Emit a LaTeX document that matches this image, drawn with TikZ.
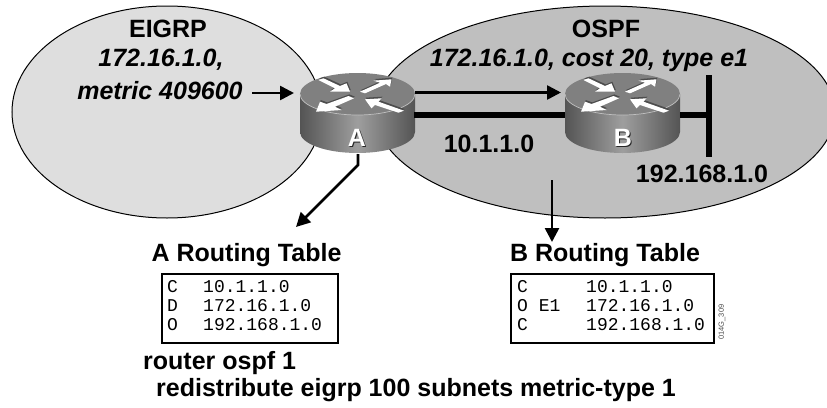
\documentclass[tikz,border=0pt]{standalone}
\usepackage{fontspec}
\setmainfont{Liberation Sans}
\setmonofont{Liberation Mono}
\usetikzlibrary{arrows.meta,shapes.geometric}
\definecolor{eigrpfill}{gray}{0.87}
\definecolor{ospffill}{gray}{0.75}
\definecolor{routertop}{gray}{0.5}
\definecolor{routerdark}{gray}{0.33}
\definecolor{routermid}{gray}{0.62}
\tikzset{
  areablob/.style={ellipse,draw=black,line width=1pt,inner sep=0pt},
  boldlabel/.style={font=\bfseries\fontsize{25}{27}\selectfont,inner sep=0pt,text=black},
  italiclabel/.style={font=\bfseries\itshape\fontsize{25}{27}\selectfont,inner sep=0pt},
  tablebox/.style={draw=black,line width=1.6pt,fill=white,minimum height=69pt,inner sep=0pt},
  tabletext/.style={font=\ttfamily\fontsize{18}{18.7}\selectfont,inner sep=0pt,align=left,anchor=north west},
  thinarrow/.style={line width=2.6pt,-{Triangle[length=14pt,width=14pt]}},
  thickline/.style={line width=6pt},
  wa/.style={fill=white},
  wshadow/.style={fill=black!70}
}
\newcommand{\routerarrows}{%
  (-39,-14) -- (-34,-15.7) -- (-17.5,-8) -- (-11,-10.7) -- (-7.5,-2.3) -- (-27.5,-2.3) -- (-22.5,-5.7) -- cycle
  (2.5,-2.3) -- (22.5,-11.3) -- (16,-13.3) -- (34,-14.7) -- (32.5,-7.3) -- (28.5,-10) -- (7.5,-0.7) -- cycle
  (-3.5,4.3) -- (-22.5,12.7) -- (-16,16) -- (-41.5,17.7) -- (-37.5,7.7) -- (-31,10) -- (-9,2) -- cycle
  (7.5,5.3) -- (24,4.3) -- (21,7.7) -- (46.5,16.7) -- (41,18.7) -- (17.5,11) -- (14,14.3) -- cycle
}
\newcommand{\routerglyph}[2]{%
  \begin{scope}[shift={(#1,#2)}]
    \path[left color=routerdark,right color=routerdark,middle color=routermid]
      (-57.5,0) -- (-57.5,38) arc[start angle=180,end angle=0,x radius=57.5,y radius=21] -- (57.5,0) -- cycle;
    \fill[routertop] (0,0) ellipse[x radius=57.5,y radius=21];
    \draw[black!25,line width=.7pt] (-57.5,0) arc[start angle=180,end angle=0,x radius=57.5,y radius=21];
    \fill[wshadow,shift={(0.8,-1.6)}] \routerarrows;
    \fill[wa] \routerarrows;
  \end{scope}
}
\begin{document}
\begin{tikzpicture}[x=1pt,y=-1pt]
\useasboundingbox (0,0) rectangle (827,407);
\clip (0,0) rectangle (827,407);
\fill[white] (0,0) rectangle (827,407);
% domains
\node[areablob,fill=eigrpfill,minimum width=310pt,minimum height=212pt] (eigrp) at (167,112) {};
\node[areablob,fill=ospffill,minimum width=460pt,minimum height=212pt] (ospf) at (605,112) {};
% routers
\routerglyph{357.5}{94}
\routerglyph{622.5}{94}
\node[font=\bfseries\fontsize{25}{27}\selectfont,text=black!85,inner sep=0pt] at (358,139) {A};
\node[font=\bfseries\fontsize{25}{27}\selectfont,text=white,inner sep=0pt] (la) at (357,138) {A};
\node[font=\bfseries\fontsize{25}{27}\selectfont,text=black!85,inner sep=0pt] at (624,139) {B};
\node[font=\bfseries\fontsize{25}{27}\selectfont,text=white,inner sep=0pt] (lb) at (623,138) {B};
% links
\coordinate (bartop) at (709,75);
\coordinate (barbot) at (709,157);
\coordinate (barmid) at (709,115);
\coordinate (aright) at (414,115);
\coordinate (bleft) at (565,115);
\coordinate (bright) at (680,115);
\coordinate (athin) at (415,92.5);
\coordinate (bthin) at (561,92.5);
\draw[thickline] (aright) -- (bleft);
\draw[thickline] (bright) -- (barmid);
\draw[thickline] (bartop) -- (barbot);
\draw[thinarrow] (athin) -- (bthin);
% labels
\node[boldlabel] (te) at (168,29) {EIGRP};
\node[italiclabel] (tn1) at (161,60) {172.16.1.0,};
\node[italiclabel] (tn2) at (160,91) {metric 409600};
\coordinate (mstart) at (252,93);
\coordinate (mend) at (294,93);
\draw[thinarrow] (mstart) -- (mend);
\node[boldlabel] (to) at (606,29) {OSPF};
\node[italiclabel] (tr) at (589,60) {172.16.1.0, cost 20, type e1};
\node[boldlabel] (tl) at (489,144) {10.1.1.0};
\node[boldlabel] (tb) at (702,174) {192.168.1.0};
% routing tables
\node[boldlabel] (ta) at (246.5,255) {A Routing Table};
\node[boldlabel] (tbb) at (605,255) {B Routing Table};
\coordinate (a1) at (358,154);
\coordinate (a2) at (358,165);
\coordinate (a3) at (296,227);
\draw[thinarrow] (a1) -- (a2) -- (a3);
\coordinate (b1) at (552,180);
\coordinate (b2) at (552,242);
\draw[thinarrow] (b1) -- (b2);
\node[tablebox,minimum width=176pt] (boxa) at (250,308.5) {};
\node[tablebox,minimum width=203pt] (boxb) at (612.5,308.5) {};
\node[tabletext] (ca) at (167,280.5) {C\\D\\O};
\node[tabletext] (ia) at (203,280.5) {10.1.1.0\\172.16.1.0\\192.168.1.0};
\node[tabletext] (cb) at (517,280.5) {C\\O E1\\C};
\node[tabletext] (ib) at (586,280.5) {10.1.1.0\\172.16.1.0\\192.168.1.0};
\node[font=\fontsize{7.5}{8}\selectfont,rotate=90,inner sep=0pt,text=black!70] (code) at (722,322) {014G\_309};
\node[boldlabel,anchor=west] (c1) at (143,363) {router ospf 1};
\node[boldlabel,anchor=west] (c2) at (156,390) {redistribute eigrp 100 subnets metric-type 1};
\end{tikzpicture}
\end{document}
